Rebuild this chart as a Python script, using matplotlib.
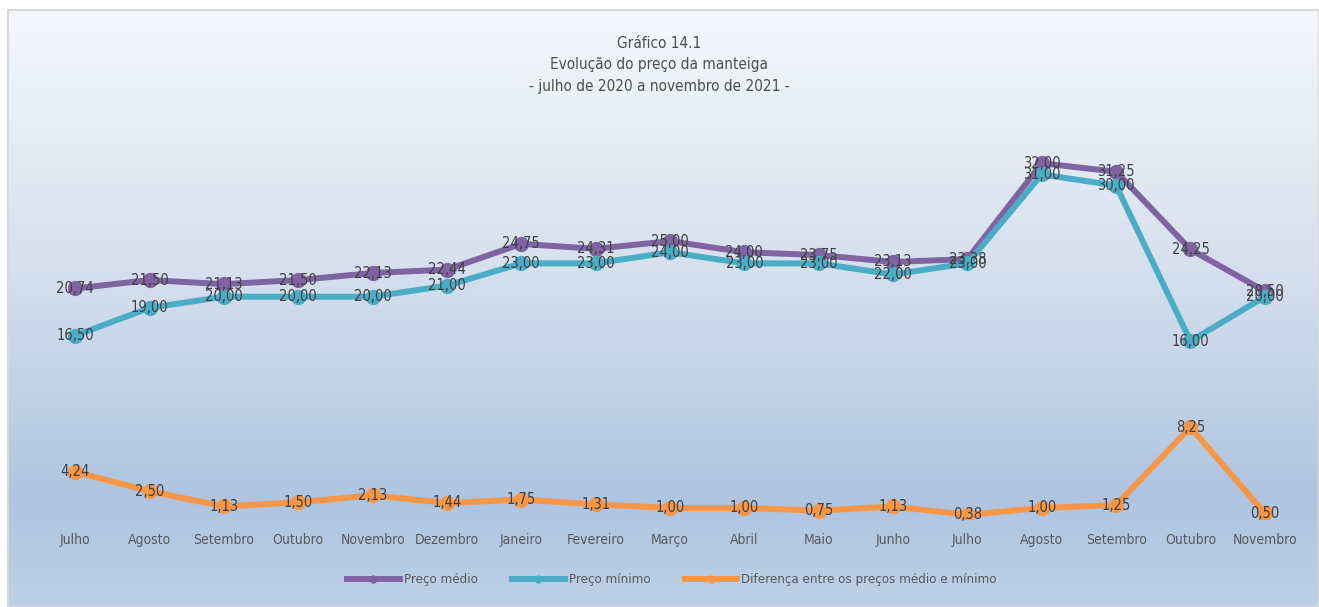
import matplotlib
matplotlib.use("Agg")
import matplotlib.pyplot as plt
import numpy as np
from matplotlib.patches import Rectangle
from matplotlib.colors import LinearSegmentedColormap

months = ["Julho", "Agosto", "Setembro", "Outubro", "Novembro", "Dezembro", "Janeiro",
          "Fevereiro", "Março", "Abril", "Maio", "Junho", "Julho", "Agosto", "Setembro",
          "Outubro", "Novembro"]
preco_medio = [20.74, 21.50, 21.13, 21.50, 22.13, 22.44, 24.75, 24.31, 25.00, 24.00,
               23.75, 23.13, 23.38, 32.00, 31.25, 24.25, 20.50]
preco_minimo = [16.50, 19.00, 20.00, 20.00, 20.00, 21.00, 23.00, 23.00, 24.00, 23.00,
                23.00, 22.00, 23.00, 31.00, 30.00, 16.00, 20.00]
diferenca = [4.24, 2.50, 1.13, 1.50, 2.13, 1.44, 1.75, 1.31, 1.00, 1.00,
             0.75, 1.13, 0.38, 1.00, 1.25, 8.25, 0.50]

series = [
    ("Preço médio", preco_medio, "#8064A2"),
    ("Preço mínimo", preco_minimo, "#4BACC6"),
    ("Diferença entre os preços médio e mínimo", diferenca, "#F79646"),
]

plt.rcParams["font.family"] = ["DejaVu Sans"]
plt.rcParams["font.stretch"] = "condensed"
W, H = 1319, 607
fig = plt.figure(figsize=(W / 100, H / 100), dpi=100)

# chart frame with a vertical gradient (darkest a bit above the bottom)
bg = fig.add_axes([0, 0, 1, 1], zorder=0)
bg.set_axis_off()
bg.set_xlim(0, W)
bg.set_ylim(H, 0)
cmap = LinearSegmentedColormap.from_list(
    "frame", [(0.0, "#F5F8FC"), (0.45, "#D4DFED"), (0.82, "#AEC4E0"), (1.0, "#BED0E7")])
bg.imshow(np.linspace(0, 1, 256)[:, None], cmap=cmap, extent=(8, W, H, 10), aspect="auto")
bg.add_patch(Rectangle((8, 10), W - 8, H - 10, fill=False, edgecolor="#D9D9D9", lw=1.5))

ax = fig.add_axes([38 / W, 1 - 519 / H, (1302 - 38) / W, (519 - 130) / H], zorder=1)
ax.patch.set_alpha(0)
x = np.arange(len(months))
for label, values, color in series:
    ax.plot(x, values, color=color, lw=4.3, marker="o", markersize=10,
            solid_joinstyle="round", label=label)
    for xi, v in zip(x, values):
        ax.text(xi, v, f"{v:.2f}".replace(".", ","), ha="center", va="center",
                fontsize=10.5, color="#404040", zorder=5)

ax.set_xlim(-0.5, len(months) - 0.5)
ax.set_ylim(0, 35)
ax.set_yticks(np.arange(0, 36, 5))
ax.yaxis.set_visible(False)
ax.grid(axis="y", color="#D9D9D9", lw=1.5)
ax.set_axisbelow(True)
for s in ax.spines.values():
    s.set_visible(False)
ax.set_xticks(x)
ax.set_xticklabels(months, fontsize=10, color="#595959")
ax.tick_params(axis="x", length=0, pad=10)

title_kw = dict(ha="center", va="center", fontsize=11, color="#4D4D4D")
fig.text(0.5, 1 - 43 / H, "Gráfico 14.1", **title_kw)
fig.text(0.5, 1 - 64 / H, "Evolução do preço da manteiga", **title_kw)
fig.text(0.5, 1 - 86 / H, "- julho de 2020 a novembro de 2021 -", **title_kw)

fig.legend(loc="center", bbox_to_anchor=(672 / W, 1 - 580 / H), ncol=3, frameon=False,
           fontsize=9.5, labelcolor="#595959", handlelength=4.0, columnspacing=2.6,
           markerscale=0.5, handletextpad=0.3)

fig.savefig("out.png", dpi=100)
